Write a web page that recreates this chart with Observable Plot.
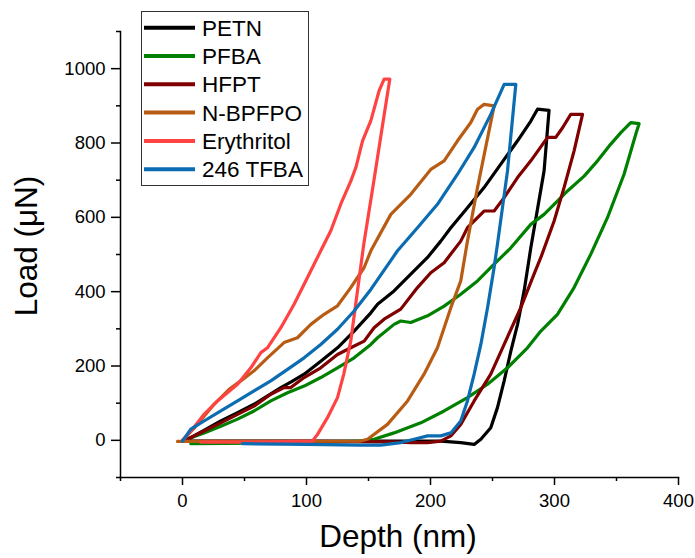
<!DOCTYPE html>
<html>
<head>
<meta charset="utf-8">
<script src="https://cdn.jsdelivr.net/npm/d3@7"></script>
<script src="https://cdn.jsdelivr.net/npm/@observablehq/plot@0.6"></script>
<style>
  body { margin: 0; background: #fff; }
  #chart { width: 695px; height: 558px; }
</style>
</head>
<body>
<div id="chart"></div>
<script>
// ---- data (depth nm, load µN) ----
const seriesNames  = ["PETN", "PFBA", "HFPT", "N-BPFPO", "Erythritol", "246 TFBA"];
const seriesColors = ["#000000", "#008000", "#800000", "#b85c14", "#ff4242", "#0b6cb2"];

const xMajorTicks = [0, 100, 200, 300, 400];
const xMinorTicks = [-50, 50, 150, 250, 350];
const yMajorTicks = [0, 200, 400, 600, 800, 1000];
const yMinorTicks = [-100, 100, 300, 500, 700, 900, 1100];

const PETN = [[0,0],[6.7,7],[18,28],[30.9,52],[44,74],[57.7,97],[68,118],[79.3,142],[88,158],[98.1,178],[111.5,213],[125,249],[138.4,294],[151.9,343],[157.3,366],[170.6,402],[184.1,447],[197.6,492],[208.3,536],[216.4,572],[229.8,626],[243.2,680],[256.7,743],[270.2,806],[280.9,859],[286.3,891],[295.6,888],
  [291.6,725],[280.9,518],[275.5,402],[270.2,312],[264.8,240],[259.4,160],[254,88],[248.6,34],[240.6,3],[235.2,-11],[224.4,-6],[208.3,-2],[176,-2],[100,-2],[2.7,-2]];

const PFBA = [[0,0],[6.7,7],[17.4,20],[30.9,38],[44.4,57],[57.7,79],[71.2,106],[84.7,128],[98.1,146],[111.5,169],[125,195],[138.4,222],[151.9,258],[157.3,276],[170.6,312],[176,321],[184.1,317],[197.6,335],[211,361],[224.4,393],[237.9,429],[251.3,474],[264.8,518],[280.9,581],[291.6,608],[299.7,635],[310.5,671],[323.9,711],[334.7,752],[345.4,797],[353.5,828],[361.5,855],[368.2,852],
  [365.6,824],[356.1,716],[342.7,599],[329.3,501],[315.8,411],[302.4,339],[289,294],[278.2,249],[262.1,195],[246,151],[229.8,115],[211,79],[192.2,47],[170.6,20],[154.5,3],[143.8,-2],[95.4,-7],[6.7,-9]];

const HFPT = [[0,0],[4,3],[17.4,25],[30.9,47],[44.4,70],[57.7,92],[71.2,124],[81.9,142],[87.3,142],[98.1,169],[111.5,195],[125,231],[135.7,249],[146.5,267],[154.5,303],[162.6,326],[176,353],[189.5,411],[200.2,451],[211,478],[224.4,536],[229.8,572],[243.2,617],[251.3,617],[259.4,653],[270.2,707],[280.9,752],[294.4,815],[301,815],[306.5,841],[313.1,877],[322.6,877],
  [315.8,779],[307.7,680],[299.7,590],[289,492],[283.5,447],[272.8,357],[259.4,258],[248.6,178],[235.2,106],[224.4,43],[216.4,12],[208.3,-2],[197.6,-6],[184.1,-6],[170.6,-4],[100,-3],[2.7,-2]];

const NBPFPO = [[0,0],[10,35],[25.5,97],[37.6,137],[47,160],[57.7,187],[68.5,222],[81.9,263],[92.7,276],[103.5,312],[114.2,339],[125,362],[135.7,411],[146.5,465],[151.9,510],[168,608],[184.1,662],[200.2,729],[211,752],[221.8,806],[232.5,855],[237.9,891],[243.2,904],[251.3,900],
  [237.9,680],[229.8,536],[224.4,429],[216.4,357],[205.6,249],[194.8,178],[181.5,106],[165.3,43],[149.2,3],[143.8,-2],[60,-3],[-4,-3]];

const Erythritol = [[0,0],[8,30],[17.4,70],[28.2,106],[44.4,151],[55.1,195],[63.2,236],[68.5,249],[79.3,303],[90,366],[100.8,438],[111.5,510],[119.6,564],[127.7,636],[135.8,698],[139.8,734],[145.2,806],[151.9,860],[158.5,940],[162.6,972],[167.2,972],
  [164,905],[154.3,698],[146.2,528],[141.1,402],[135.7,267],[130.1,179],[125,115],[116.9,61],[108.9,16],[104.8,-2],[60,-5],[14.8,-5]];

const TFBA246 = [[0,-2],[6.7,30],[17.4,52],[30.9,79],[44.4,106],[57.7,133],[71.2,160],[84.7,191],[98.1,222],[111.5,258],[125,299],[138.4,348],[151.9,406],[173.4,510],[189.5,572],[205.6,635],[221.8,716],[235.2,788],[248.6,877],[259.4,958],[268.8,958],
  [262.1,725],[254,528],[251.3,465],[246,357],[240.6,258],[235.2,178],[229.8,106],[224.4,52],[216.4,20],[208.3,12],[197.6,12],[186.8,3],[176,-6],[159.9,-13],[143.8,-13],[100,-11],[48.4,-9]];

const seriesData = [PETN, PFBA, HFPT, NBPFPO, Erythritol, TFBA246];

// ---- build table ----
const rows = [];
seriesData.forEach((arr, i) => arr.forEach(([d, l], k) => rows.push({series: seriesNames[i], depth: d, load: l, k})));

const FONT = '"Liberation Sans", Arial, Helvetica, sans-serif';
const fmt = d => String(d);

const chart = Plot.plot({
  width: 695,
  height: 558,
  marginLeft: 120,
  marginRight: 17,
  marginTop: 31,
  marginBottom: 81,
  style: {fontFamily: FONT, fontSize: "18.5px", color: "#000", background: "#fff"},
  x: {domain: [-50, 400]},
  y: {domain: [-100, 1100]},
  color: {domain: seriesNames, range: seriesColors},
  marks: [
    Plot.line(rows, {x: "depth", y: "load", z: "series", stroke: "series", strokeWidth: 3.2, strokeLinejoin: "round", strokeLinecap: "round", curve: "linear"}),
    Plot.axisX({ticks: xMajorTicks, tickFormat: fmt, tickSize: 8, tickPadding: 8, strokeWidth: 1.5, label: null, fontSize: 18.5}),
    Plot.axisX({ticks: xMinorTicks, tickSize: 4, text: null, strokeWidth: 1.5, label: null}),
    Plot.axisY({ticks: yMajorTicks, tickFormat: fmt, tickSize: 9, tickPadding: 6, strokeWidth: 1.5, label: null, fontSize: 18.5}),
    Plot.axisY({ticks: yMinorTicks, tickSize: 4, text: null, strokeWidth: 1.5, label: null}),
    Plot.frame({anchor: "left", strokeWidth: 1.5}),
    Plot.frame({anchor: "bottom", strokeWidth: 1.5})
  ]
});

const svg = d3.select(chart);

// axis titles
svg.append("text")
  .attr("transform", "translate(37,246) rotate(-90)")
  .attr("text-anchor", "middle")
  .attr("font-family", FONT).attr("font-size", 31.5).attr("fill", "#000")
  .text("Load (μN)");
svg.append("text")
  .attr("x", 398).attr("y", 547)
  .attr("text-anchor", "middle")
  .attr("font-family", FONT).attr("font-size", 31.5).attr("fill", "#000")
  .text("Depth (nm)");

// legend
const lg = svg.append("g").attr("text-anchor", "start");
lg.append("rect").attr("x", 141.5).attr("y", 11.5).attr("width", 167).attr("height", 174)
  .attr("fill", "#fff").attr("stroke", "#333").attr("stroke-width", 1);
seriesNames.forEach((name, i) => {
  const cy = 27.7 + i * 28.3;
  lg.append("line").attr("x1", 144).attr("x2", 195).attr("y1", cy).attr("y2", cy)
    .attr("stroke", seriesColors[i]).attr("stroke-width", 4);
  lg.append("text").attr("x", 202).attr("y", cy).attr("dy", "0.36em")
    .attr("text-anchor", "start")
    .attr("font-family", FONT).attr("font-size", 22.5).attr("fill", "#000").text(name);
});

document.getElementById("chart").appendChild(chart);
</script>
</body>
</html>
